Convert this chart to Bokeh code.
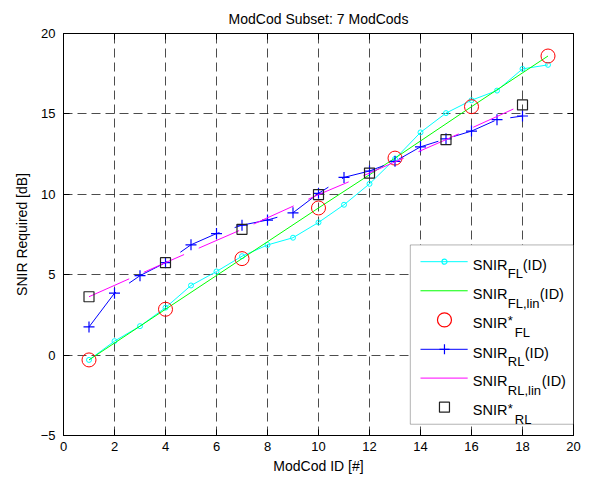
from bokeh.plotting import figure
from bokeh.models import (LinearAxis, Range1d, FixedTicker, CustomJSTickFormatter,
                          BoxAnnotation, Label)
from bokeh.embed import file_html
from bokeh.resources import INLINE

# ---------------- data ----------------
TITLE = "ModCod Subset: 7 ModCods"
X_LABEL = "ModCod ID [#]"
Y_LABEL = "SNIR Required [dB]"
X_TICKS = [0, 2, 4, 6, 8, 10, 12, 14, 16, 18, 20]
Y_TICKS = [-5, 0, 5, 10, 15, 20]

fl_ids = list(range(1, 20))
snir_fl = [-0.3, 0.87, 1.8, 2.95, 4.33, 5.2, 6.15, 6.85, 7.3, 8.25,
           9.35, 10.65, 12.2, 13.85, 15.05, 15.85, 16.45, 17.8, 18.05]

fl_star_ids = [1, 4, 7, 10, 13, 16, 19]
snir_fl_star = [-0.3, 2.85, 6.0, 9.15, 12.25, 15.45, 18.6]

rl_ids = list(range(1, 19))
snir_rl = [1.75, 3.85, 4.94, 5.75, 6.86, 7.56, 8.08, 8.4, 8.85, 10.06,
           11.05, 11.45, 12.05, 12.95, 13.45, 13.93, 14.64, 14.87]

rl_star_ids = [1, 4, 7, 10, 12, 15, 18]
snir_rl_star = [3.63, 5.75, 7.82, 9.98, 11.32, 13.4, 15.56]

# ---------------- style ----------------
FONT = "Liberation Sans"
CYAN, GREEN, RED, BLUE, MAGENTA, BLACK = "#00FFFF", "#00FF00", "#FF0000", "#0000FF", "#FF00FF", "#000000"

p = figure(frame_width=510, frame_height=402,
           x_range=Range1d(0, 20), y_range=Range1d(-5, 20),
           output_backend="svg", toolbar_location=None, title=TITLE,
           min_border_left=63, min_border_right=22, min_border_top=33, min_border_bottom=44)
p.background_fill_color = "white"
p.border_fill_color = "white"
p.outline_line_color = "black"
p.outline_line_width = 1

p.title.text_font = FONT
p.title.text_font_size = "14px"
p.title.text_font_style = "normal"
p.title.align = "center"
p.title.vertical_align = "top"
p.title.text_color = "black"
p.title.standoff = 9

def style_axis(ax, ticks, label=None):
    ax.ticker = FixedTicker(ticks=ticks)
    ax.axis_line_color = "black"
    ax.major_tick_line_color = "black"
    ax.major_tick_in = 6
    ax.major_tick_out = 0
    ax.minor_tick_line_color = None
    ax.major_label_text_font = FONT
    ax.major_label_text_font_size = "13px"
    ax.major_label_text_color = "black"
    if label is not None:
        ax.axis_label = label
        ax.axis_label_text_font = FONT
        ax.axis_label_text_font_size = "14px"
        ax.axis_label_text_font_style = "normal"
        ax.axis_label_text_color = "black"

style_axis(p.xaxis[0], X_TICKS, X_LABEL)
style_axis(p.yaxis[0], Y_TICKS, Y_LABEL)
p.xaxis[0].major_label_standoff = 6
p.xaxis[0].axis_label_standoff = 4
p.yaxis[0].major_label_standoff = 8
p.yaxis[0].axis_label_standoff = 8

blank = CustomJSTickFormatter(code="return ''")
top_ax = LinearAxis(formatter=blank, major_label_standoff=0)
style_axis(top_ax, X_TICKS)
right_ax = LinearAxis(formatter=blank, major_label_standoff=0)
style_axis(right_ax, Y_TICKS)
p.add_layout(top_ax, "above")
p.add_layout(right_ax, "right")

for g, t in ((p.xgrid[0], X_TICKS), (p.ygrid[0], Y_TICKS)):
    g.ticker = FixedTicker(ticks=t)
    g.grid_line_color = "black"
    g.grid_line_alpha = 0.7
    g.grid_line_dash = "9 5"
    g.grid_line_width = 1

# ---------------- series ----------------
DASH_RL = "44 16"
p.line(fl_ids, snir_fl, color=CYAN, line_width=1)
p.scatter(fl_ids, snir_fl, marker="circle", size=5, line_color=CYAN, fill_color=None, line_width=1)
p.line(fl_star_ids, snir_fl_star, color=GREEN, line_width=1)
p.scatter(fl_star_ids, snir_fl_star, marker="circle", size=14, line_color=RED, fill_color=None, line_width=1)
p.line(rl_ids, snir_rl, color=BLUE, line_width=1, line_dash=DASH_RL)
p.scatter(rl_ids, snir_rl, marker="cross", size=11, line_color=BLUE, line_width=1.2)
p.line(rl_star_ids, snir_rl_star, color=MAGENTA, line_width=1, line_dash=DASH_RL)
p.scatter(rl_star_ids, snir_rl_star, marker="square", size=10, line_color="#222222", fill_color=None, line_width=1.2)

# ---------------- legend (drawn manually for sub/superscripts) ----------------
LEG_BOX = dict(left=13.6, right=20.0, bottom=-4.3, top=6.85)
LEG_ROWS = [5.81, 4.0, 2.19, 0.36, -1.43, -3.24]
LEG_LINE_X = [14.0, 15.85]
LEG_MARK_X = 14.94
LEG_TEXT_X = 16.05

p.add_layout(BoxAnnotation(fill_color="white", fill_alpha=1.0, line_color="black",
                           line_width=1, level="annotation", **LEG_BOX))

entries = [
    dict(line=CYAN, marker="circle", msize=5, mcolor=CYAN,
         parts=[("SNIR", 0, -3.3, "14.5px"), ("FL", 35, -12.3, "13px"), ("(ID)", 50, -3.3, "14.5px")]),
    dict(line=GREEN, marker=None,
         parts=[("SNIR", 0, -3.3, "14.5px"), ("FL,lin", 35, -12.3, "13px"), ("(ID)", 67, -3.3, "14.5px")]),
    dict(line=None, marker="circle", msize=14, mcolor=RED,
         parts=[("SNIR", 0, -3.3, "14.5px"), ("*", 35, -1.0, "13px"), ("FL", 42, -12.3, "13px")]),
    dict(line=BLUE, marker="cross", msize=10, mcolor=BLUE,
         parts=[("SNIR", 0, -3.3, "14.5px"), ("RL", 35, -12.3, "13px"), ("(ID)", 52, -3.3, "14.5px")]),
    dict(line=MAGENTA, marker=None,
         parts=[("SNIR", 0, -3.3, "14.5px"), ("RL,lin", 35, -12.3, "13px"), ("(ID)", 69, -3.3, "14.5px")]),
    dict(line=None, marker="square", msize=10, mcolor="#222222",
         parts=[("SNIR", 0, -3.3, "14.5px"), ("*", 35, -1.0, "13px"), ("RL", 42, -12.3, "13px")]),
]

for ry, e in zip(LEG_ROWS, entries):
    if e["line"] is not None:
        p.line(LEG_LINE_X, [ry, ry], color=e["line"], line_width=1, level="overlay")
    if e["marker"] is not None:
        p.scatter([LEG_MARK_X], [ry], marker=e["marker"], size=e["msize"], line_color=e["mcolor"],
                  fill_color=None, line_width=1.2, level="overlay")
    for txt, dx, dy, fs in e["parts"]:
        p.add_layout(Label(x=LEG_TEXT_X, y=ry, x_offset=dx, y_offset=dy, text=txt,
                           text_font=FONT, text_font_size=fs, text_color="black",
                           text_baseline="alphabetic", text_align="left", level="overlay"))

open("out.html", "w").write(file_html(p, INLINE))
